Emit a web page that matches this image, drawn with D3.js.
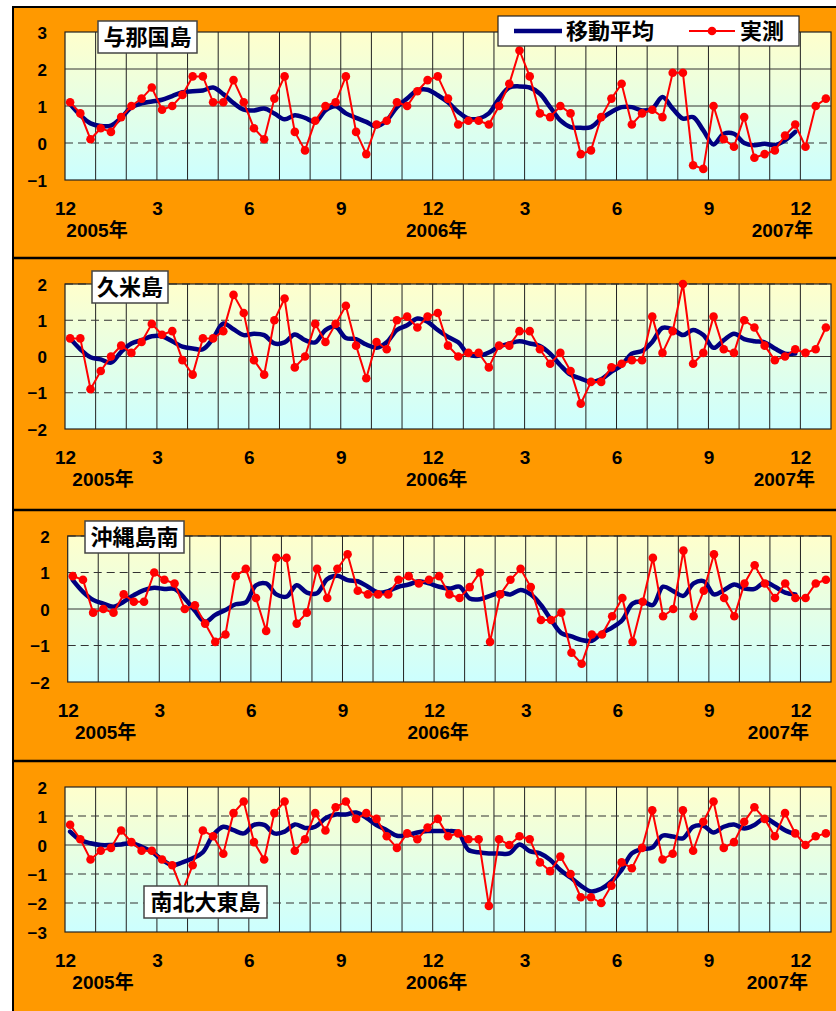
<!DOCTYPE html>
<html>
<head>
<meta charset="utf-8">
<script src="https://cdn.jsdelivr.net/npm/d3@7"></script>
<style>
  body { margin: 0; background: #fff; }
  svg { display: block; }
  .num { font-family: "Liberation Sans", Arial, "Noto Sans CJK JP", sans-serif; font-weight: bold; fill: #000; }
  .jp { font-family: "Noto Sans CJK JP", sans-serif; font-weight: bold; fill: #000; }
</style>
</head>
<body>
<svg id="chart" width="836" height="1011"></svg>
<script>
// dekad (10-day) series, Dec 2005 .. Dec 2007 = 75 values; moving average stops 3 short
const monthTicks = ['12', '3', '6', '9', '12', '3', '6', '9', '12'];
const yearLabels = ['2005年', '2006年', '2007年'];
const legendNames = ['移動平均', '実測'];
const stationNames = ['与那国島', '久米島', '沖縄島南', '南北大東島'];

const yonaguniObs = [
  1.1, 0.8, 0.1, 0.4, 0.3, 0.7, 1.0, 1.2, 1.5, 0.9, 1.0, 1.3,
  1.8, 1.8, 1.1, 1.1, 1.7, 1.1, 0.4, 0.1, 1.2, 1.8, 0.3, -0.2,
  0.6, 1.0, 1.1, 1.8, 0.3, -0.3, 0.5, 0.6, 1.1, 1.0, 1.4, 1.7,
  1.8, 1.2, 0.5, 0.6, 0.6, 0.5, 1.0, 1.6, 2.5, 1.8, 0.8, 0.7,
  1.0, 0.8, -0.3, -0.2, 0.7, 1.2, 1.6, 0.5, 0.8, 0.9, 0.7, 1.9,
  1.9, -0.6, -0.7, 1.0, 0.1, -0.1, 0.7, -0.4, -0.3, -0.2, 0.2, 0.5,
  -0.1, 1.0, 1.2
];
const yonaguniAvg = [
  1.05, 0.75, 0.53, 0.46, 0.47, 0.68, 0.96, 1.07, 1.12, 1.17, 1.27, 1.37,
  1.4, 1.42, 1.5, 1.32, 1.08, 0.9, 0.88, 0.93, 0.8, 0.64, 0.75, 0.68,
  0.57, 0.88, 0.99, 0.8, 0.68, 0.57, 0.45, 0.61, 0.97, 1.2, 1.42, 1.44,
  1.29, 1.1, 0.84, 0.66, 0.66, 0.8, 1.2, 1.5, 1.53, 1.5, 1.33, 0.97,
  0.61, 0.43, 0.41, 0.43, 0.66, 0.84, 0.97, 0.97, 0.88, 0.93, 1.24, 0.93,
  0.66, 0.7, 0.34, -0.04, 0.25, 0.25, 0.0, -0.06, -0.02, -0.06, 0.07, 0.3
];

const kumeObs = [
  0.5, 0.5, -0.9, -0.4, 0.0, 0.3, 0.1, 0.4, 0.9, 0.6, 0.7, -0.1,
  -0.5, 0.5, 0.5, 0.7, 1.7, 1.2, -0.1, -0.5, 1.0, 1.6, -0.3, 0.0,
  0.9, 0.4, 0.9, 1.4, 0.3, -0.6, 0.4, 0.2, 1.0, 1.1, 0.8, 1.1,
  1.2, 0.3, 0.0, 0.1, 0.1, -0.3, 0.3, 0.3, 0.7, 0.7, 0.2, -0.2,
  0.1, -0.4, -1.3, -0.7, -0.7, -0.3, -0.2, -0.1, -0.1, 1.1, 0.1, 0.7,
  2.0, -0.2, 0.1, 1.1, 0.2, 0.1, 1.0, 0.8, 0.3, -0.1, 0.0, 0.2,
  0.1, 0.2, 0.8
];
const kumeAvg = [
  0.5, 0.2, -0.02, -0.08, -0.17, 0.13, 0.36, 0.45, 0.56, 0.56, 0.42, 0.27,
  0.22, 0.2, 0.5, 0.91, 0.75, 0.59, 0.63, 0.59, 0.36, 0.39, 0.61, 0.45,
  0.39, 0.73, 0.82, 0.51, 0.48, 0.33, 0.24, 0.39, 0.73, 0.86, 1.05, 0.96,
  0.73, 0.54, 0.39, 0.06, 0.02, 0.11, 0.27, 0.36, 0.42, 0.36, 0.29, 0.08,
  -0.24, -0.5, -0.61, -0.7, -0.63, -0.42, -0.24, 0.08, 0.15, 0.4, 0.79, 0.75,
  0.59, 0.73, 0.59, 0.24, 0.45, 0.63, 0.48, 0.42, 0.39, 0.22, 0.08, 0.08
];

const okinawaObs = [
  0.9, 0.8, -0.1, 0.0, -0.1, 0.4, 0.2, 0.2, 1.0, 0.8, 0.7, 0.0,
  0.1, -0.4, -0.9, -0.7, 0.9, 1.1, 0.3, -0.6, 1.4, 1.4, -0.4, -0.1,
  1.1, 0.3, 1.1, 1.5, 0.5, 0.4, 0.4, 0.4, 0.8, 0.9, 0.7, 0.8,
  0.9, 0.4, 0.3, 0.6, 1.0, -0.9, 0.4, 0.8, 1.1, 0.6, -0.3, -0.3,
  -0.1, -1.2, -1.5, -0.7, -0.7, -0.2, 0.3, -0.9, 0.2, 1.4, -0.2, 0.0,
  1.6, -0.2, 0.5, 1.5, 0.3, -0.2, 0.7, 1.2, 0.7, 0.3, 0.7, 0.3,
  0.3, 0.7, 0.8
];
const okinawaAvg = [
  0.79, 0.47, 0.25, 0.15, 0.06, 0.2, 0.38, 0.52, 0.58, 0.55, 0.55, 0.29,
  -0.05, -0.35, -0.16, -0.03, 0.13, 0.18, 0.65, 0.7, 0.4, 0.34, 0.65, 0.45,
  0.43, 0.82, 0.91, 0.79, 0.76, 0.61, 0.45, 0.49, 0.61, 0.67, 0.76, 0.7,
  0.61, 0.56, 0.61, 0.29, 0.27, 0.36, 0.45, 0.4, 0.52, 0.4, 0.11, -0.3,
  -0.66, -0.75, -0.85, -0.87, -0.66, -0.51, -0.3, 0.15, 0.2, 0.11, 0.61, 0.49,
  0.36, 0.7, 0.76, 0.4, 0.52, 0.67, 0.56, 0.55, 0.73, 0.61, 0.45, 0.4
];

const daitoObs = [
  0.7, 0.2, -0.5, -0.2, -0.1, 0.5, 0.1, -0.2, -0.2, -0.5, -0.7, -1.6,
  -0.7, 0.5, 0.3, -0.3, 1.1, 1.5, 0.1, -0.5, 1.1, 1.5, -0.2, 0.2,
  1.1, 0.5, 1.3, 1.5, 0.9, 1.1, 0.9, 0.3, -0.1, 0.4, 0.2, 0.6,
  0.9, 0.3, 0.4, 0.2, 0.2, -2.1, 0.2, 0.0, 0.3, 0.2, -0.6, -0.9,
  -0.4, -1.0, -1.8, -1.8, -2.0, -1.4, -0.6, -0.8, -0.1, 1.2, -0.5, -0.3,
  1.2, -0.2, 0.8, 1.5, -0.1, 0.1, 0.8, 1.3, 0.9, 0.3, 1.1, 0.4,
  0.0, 0.3, 0.4
];
const daitoAvg = [
  0.46, 0.17, 0.06, 0.0, 0.0, 0.02, 0.06, -0.06, -0.23, -0.51, -0.69, -0.6,
  -0.46, -0.25, 0.34, 0.63, 0.51, 0.4, 0.69, 0.69, 0.4, 0.46, 0.71, 0.59,
  0.63, 0.92, 1.05, 1.05, 1.12, 0.94, 0.69, 0.51, 0.32, 0.34, 0.43, 0.48,
  0.48, 0.48, 0.43, -0.17, -0.25, -0.29, -0.29, -0.29, 0.02, -0.21, -0.29, -0.51,
  -0.86, -1.12, -1.4, -1.6, -1.51, -1.26, -0.86, -0.29, -0.14, -0.09, 0.32, 0.29,
  0.23, 0.63, 0.66, 0.43, 0.63, 0.71, 0.57, 0.69, 0.92, 0.74, 0.51, 0.37
];

// layout of the four stacked panels
const panels = [
  { name: stationNames[0], obs: yonaguniObs, avg: yonaguniAvg, domain: [-1, 3],
    frameTop: 7, top: 32, bottom: 180, left: 65, solid: [1, 2], dashed: [0],
    title: { x: 98, y: 21, w: 99, h: 32 }, yearDx: [32, 4, -18] },
  { name: stationNames[1], obs: kumeObs, avg: kumeAvg, domain: [-2, 2],
    frameTop: 258, top: 284, bottom: 429, left: 65, solid: [0], dashed: [-1, 1, 2],
    title: { x: 92, y: 271, w: 76, h: 32 }, yearDx: [38, 4, -16] },
  { name: stationNames[2], obs: okinawaObs, avg: okinawaAvg, domain: [-2, 2],
    frameTop: 510, top: 536, bottom: 682, left: 67.7, solid: [0], dashed: [-1, 1, 2],
    title: { x: 85, y: 521, w: 99, h: 32 }, yearDx: [38, 4, -22] },
  { name: stationNames[3], obs: daitoObs, avg: daitoAvg, domain: [-3, 2],
    frameTop: 761, top: 787, bottom: 932, left: 65, solid: [0], dashed: [-2, -1, 1],
    title: { x: 144, y: 886, w: 123, h: 32 }, yearDx: [38, 4, -23] }
];

const plotRight = 831;
const dekadCount = 75;
const navy = '#000080', red = '#ff0000';

const svg = d3.select('#chart');

const defs = svg.append('defs');
const grad = defs.append('linearGradient')
  .attr('id', 'plotFill').attr('x1', 0).attr('y1', 0).attr('x2', 0).attr('y2', 1);
grad.append('stop').attr('offset', '0%').attr('stop-color', '#ffffcc');
grad.append('stop').attr('offset', '100%').attr('stop-color', '#ccffff');

// orange frame
svg.append('rect')
  .attr('x', 13).attr('y', 7).attr('width', 830).attr('height', 1010)
  .attr('fill', '#ff9900').attr('stroke', '#000').attr('stroke-width', 2);

panels.forEach((p, k) => {
  const g = svg.append('g');

  if (k > 0) {
    g.append('line')
      .attr('x1', 13).attr('x2', 836).attr('y1', p.frameTop).attr('y2', p.frameTop)
      .attr('stroke', '#000').attr('stroke-width', 2.5);
  }

  const x = d3.scaleLinear().domain([0, dekadCount]).range([p.left, plotRight]);
  const y = d3.scaleLinear().domain(p.domain).range([p.bottom, p.top]);

  g.append('rect')
    .attr('x', p.left).attr('y', p.top)
    .attr('width', plotRight - p.left).attr('height', p.bottom - p.top)
    .attr('fill', 'url(#plotFill)');

  // month grid
  g.selectAll('.vgrid')
    .data(d3.range(1, 25))
    .enter().append('line')
    .attr('x1', m => x(m * 3)).attr('x2', m => x(m * 3))
    .attr('y1', p.top).attr('y2', p.bottom)
    .attr('stroke', '#222').attr('stroke-width', 1);

  g.selectAll('.hsolid')
    .data(p.solid)
    .enter().append('line')
    .attr('x1', p.left).attr('x2', plotRight)
    .attr('y1', d => y(d)).attr('y2', d => y(d))
    .attr('stroke', '#333').attr('stroke-width', 1);

  g.selectAll('.hdash')
    .data(p.dashed)
    .enter().append('line')
    .attr('x1', p.left).attr('x2', plotRight)
    .attr('y1', d => y(d)).attr('y2', d => y(d))
    .attr('stroke', '#333').attr('stroke-width', 1.2)
    .attr('stroke-dasharray', '8,5');

  g.append('rect')
    .attr('x', p.left).attr('y', p.top)
    .attr('width', plotRight - p.left).attr('height', p.bottom - p.top)
    .attr('fill', 'none').attr('stroke', '#222').attr('stroke-width', 1.2);

  // y axis
  const yAxis = g.append('g')
    .attr('transform', `translate(${p.left - 18},0)`)
    .call(d3.axisLeft(y)
      .tickValues(d3.range(p.domain[0], p.domain[1] + 1))
      .tickFormat(d3.format('d'))
      .tickSize(0).tickPadding(0));
  yAxis.select('.domain').remove();
  yAxis.selectAll('text')
    .attr('class', 'num').attr('font-size', 17).attr('dy', '0.36em').attr('x', 0);

  // x axis
  const xAxis = g.append('g')
    .attr('transform', `translate(0,${p.bottom + 28})`)
    .call(d3.axisBottom(x)
      .tickValues(monthTicks.map((_, i) => i * 9))
      .tickFormat((d, i) => monthTicks[i])
      .tickSize(0).tickPadding(0));
  xAxis.select('.domain').remove();
  xAxis.selectAll('text')
    .attr('class', 'num').attr('font-size', 19).attr('y', 0).attr('dy', '0.36em');

  g.selectAll('.year')
    .data(yearLabels)
    .enter().append('text')
    .attr('class', 'num')
    .attr('font-size', 19)
    .attr('text-anchor', 'middle')
    .attr('x', (d, i) => x(i * 36) + p.yearDx[i])
    .attr('y', p.bottom + 50)
    .attr('dy', '0.36em')
    .text(d => d);

  // series
  const avgLine = d3.line()
    .x((d, i) => x(i + 0.5))
    .y(d => y(d))
    .curve(d3.curveCatmullRom.alpha(0.5));

  g.append('path')
    .datum(p.avg)
    .attr('d', avgLine)
    .attr('fill', 'none').attr('stroke', navy).attr('stroke-width', 4.5)
    .attr('stroke-linejoin', 'round').attr('stroke-linecap', 'round');

  const obsLine = d3.line()
    .x((d, i) => x(i + 0.5))
    .y(d => y(d));

  g.append('path')
    .datum(p.obs)
    .attr('d', obsLine)
    .attr('fill', 'none').attr('stroke', red).attr('stroke-width', 2);

  g.selectAll('.dot')
    .data(p.obs)
    .enter().append('circle')
    .attr('cx', (d, i) => x(i + 0.5))
    .attr('cy', d => y(d))
    .attr('r', 4.3)
    .attr('fill', red);

  // station label
  g.append('rect')
    .attr('x', p.title.x).attr('y', p.title.y)
    .attr('width', p.title.w).attr('height', p.title.h)
    .attr('fill', '#fff').attr('stroke', '#444').attr('stroke-width', 1.5);
  g.append('text')
    .attr('class', 'jp')
    .attr('font-size', 22)
    .attr('text-anchor', 'middle')
    .attr('x', p.title.x + p.title.w / 2)
    .attr('y', p.title.y + p.title.h / 2)
    .attr('dy', '0.36em')
    .text(p.name);
});

// legend (top panel)
const legend = svg.append('g');
legend.append('rect')
  .attr('x', 498).attr('y', 16).attr('width', 301).attr('height', 30)
  .attr('fill', '#fff').attr('stroke', '#222').attr('stroke-width', 1.2);
legend.append('line')
  .attr('x1', 514).attr('x2', 562).attr('y1', 31).attr('y2', 31)
  .attr('stroke', navy).attr('stroke-width', 4.5);
legend.append('text')
  .attr('class', 'jp').attr('font-size', 22)
  .attr('x', 566).attr('y', 31).attr('dy', '0.36em')
  .text(legendNames[0]);
legend.append('line')
  .attr('x1', 689).attr('x2', 735).attr('y1', 31).attr('y2', 31)
  .attr('stroke', red).attr('stroke-width', 2);
legend.append('circle')
  .attr('cx', 712).attr('cy', 31).attr('r', 4.3).attr('fill', red);
legend.append('text')
  .attr('class', 'jp').attr('font-size', 22)
  .attr('x', 740).attr('y', 31).attr('dy', '0.36em')
  .text(legendNames[1]);
</script>
</body>
</html>
